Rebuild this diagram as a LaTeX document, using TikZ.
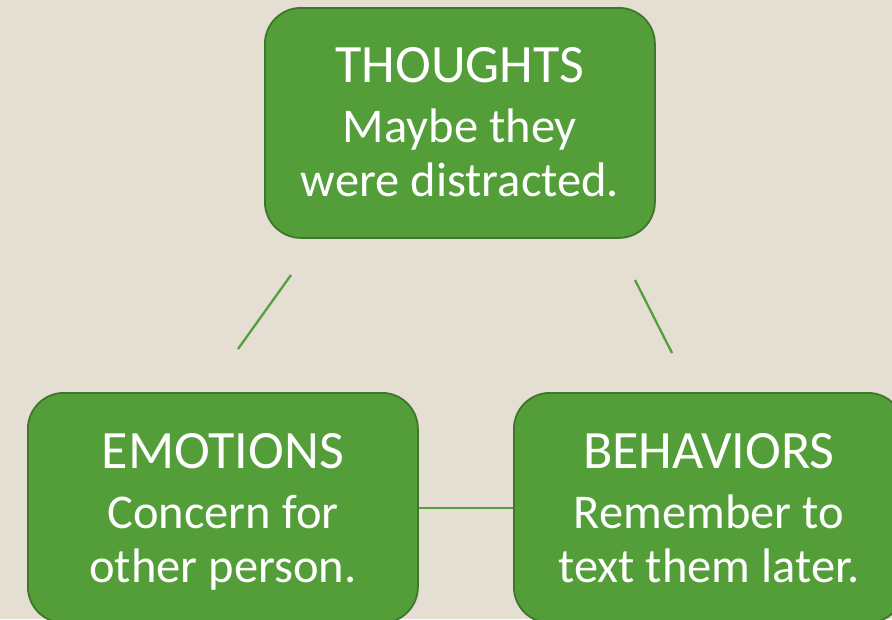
\documentclass[tikz,border=0pt]{standalone}
\usepackage{fontspec}
\setmainfont{Carlito}
\definecolor{bgbeige}{RGB}{228,222,211}
\definecolor{boxgreen}{RGB}{84,158,58}
\definecolor{boxedge}{RGB}{62,118,42}
\definecolor{linkgreen}{RGB}{84,160,58}
% card heading: slightly larger, with a fixed strut so all cards line up
\newcommand{\cardhead}[1]{{\fontsize{54}{54}\selectfont\rule{0pt}{42pt}#1}}
\begin{document}
\begin{tikzpicture}[x=1pt,y=-1pt,
  cardbox/.style={draw=boxedge, line width=1.8pt, fill=boxgreen, rounded corners=36pt,
    minimum width=390pt, minimum height=230pt, inner sep=0pt, anchor=north west,
    text=white, align=center, font=\fontsize{48.5}{54}\selectfont},
  link/.style={draw=linkgreen, line width=2.3pt}]
\useasboundingbox (0,0) rectangle (892,619);
\fill[bgbeige] (0,0) rectangle (892,619);
\clip (0,0) rectangle (892,619);
% the three cards of the triangle
\node[cardbox] (thoughts) at (264,7)
  {\cardhead{THOUGHTS}\\[6pt]Maybe they\\were distracted.\vphantom{py}};
\node[cardbox] (emotions) at (27,392)
  {\cardhead{EMOTIONS}\\[6pt]Concern for\\other person.\vphantom{py}};
\node[cardbox] (behaviors) at (513,392)
  {\cardhead{BEHAVIORS}\\[6pt]Remember to\\text them later.\vphantom{py}};
% free-standing diagonal links
\coordinate (tlA) at (291,275);
\coordinate (tlB) at (238,349);
\coordinate (trA) at (635,280);
\coordinate (trB) at (672,353);
\draw[link] (tlA) -- (tlB);
\draw[link] (trA) -- (trB);
\draw[link] (emotions.east) -- (behaviors.west);
\end{tikzpicture}
\end{document}
